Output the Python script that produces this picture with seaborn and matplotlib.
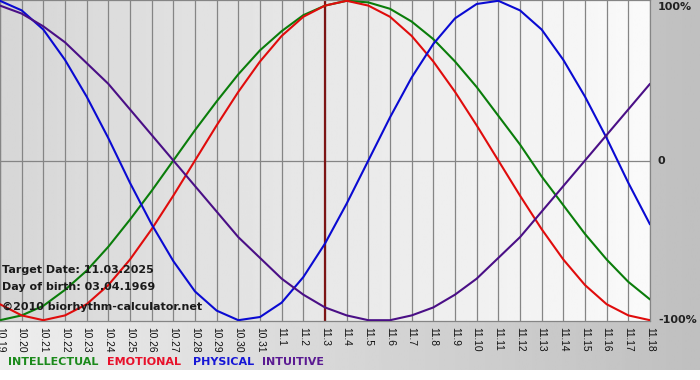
import numpy as np
import pandas as pd
import seaborn as sns
import matplotlib.pyplot as plt

# dates shown on the x axis (10.19 .. 11.18)
dates = ['10.19', '10.20', '10.21', '10.22', '10.23', '10.24', '10.25', '10.26',
         '10.27', '10.28', '10.29', '10.30', '10.31', '11.1', '11.2', '11.3',
         '11.4', '11.5', '11.6', '11.7', '11.8', '11.9', '11.10', '11.11',
         '11.12', '11.13', '11.14', '11.15', '11.16', '11.17', '11.18']

# cycle values (-1 .. 1)
intellectual = [-1.00, -0.97, -0.91, -0.81, -0.69, -0.54, -0.37, -0.19, 0.00,
                0.19, 0.37, 0.54, 0.69, 0.81, 0.91, 0.97, 1.00, 0.99, 0.95,
                0.87, 0.76, 0.62, 0.46, 0.28, 0.10, -0.10, -0.28, -0.46,
                -0.62, -0.76, -0.87]
emotional = [-0.90, -0.97, -1.00, -0.97, -0.90, -0.78, -0.62, -0.43, -0.22,
             0.00, 0.22, 0.43, 0.62, 0.78, 0.90, 0.97, 1.00, 0.97, 0.90,
             0.78, 0.62, 0.43, 0.22, 0.00, -0.22, -0.43, -0.62, -0.78,
             -0.90, -0.97, -1.00]
physical = [1.00, 0.94, 0.82, 0.63, 0.40, 0.14, -0.14, -0.40, -0.63, -0.82,
            -0.94, -1.00, -0.98, -0.89, -0.73, -0.52, -0.27, 0.00, 0.27,
            0.52, 0.73, 0.89, 0.98, 1.00, 0.94, 0.82, 0.63, 0.40, 0.14,
            -0.14, -0.40]
intuitive = [0.97, 0.92, 0.84, 0.74, 0.61, 0.48, 0.32, 0.16, 0.00, -0.16,
             -0.32, -0.48, -0.61, -0.74, -0.84, -0.92, -0.97, -1.00, -1.00,
             -0.97, -0.92, -0.84, -0.74, -0.61, -0.48, -0.32, -0.16, 0.00,
             0.16, 0.32, 0.48]

target_idx = dates.index('11.3')

names = ['INTELLECTUAL', 'EMOTIONAL', 'PHYSICAL', 'INTUITIVE']
colors = {'INTELLECTUAL': '#0a7d0a', 'EMOTIONAL': '#e00c0c',
          'PHYSICAL': '#0a0ad2', 'INTUITIVE': '#4a0f86'}
legend_colors = ['#1b8a1b', '#e8102a', '#1616d6', '#5a1a92']

df = pd.DataFrame({
    'day': list(range(len(dates))) * 4,
    'value': intellectual + emotional + physical + intuitive,
    'series': sum([[n] * len(dates) for n in names], []),
})

sns.set_style('white')
plt.rcParams['font.family'] = ['DejaVu Sans']

fig = plt.figure(figsize=(7, 3.8), dpi=100)
fig.patch.set_facecolor('white')

# grey page gradient behind everything
bg = fig.add_axes([0, 10 / 380, 1, 370 / 380], zorder=-5)
bg.imshow(np.linspace(0.93, 0.75, 256).reshape(1, -1), cmap='gray', vmin=0, vmax=1,
          aspect='auto', extent=[0, 1, 0, 1])
bg.set_axis_off()

ax = fig.add_axes([0, 59 / 380, 650 / 700, 321 / 380])
ax.patch.set_alpha(0)
ax.imshow(np.linspace(0.84, 0.98, 256).reshape(1, -1), cmap='gray', vmin=0, vmax=1,
          aspect='auto', extent=[0, len(dates) - 1, -1.005, 1.005], zorder=0)

for i in range(len(dates)):
    ax.axvline(i, color='#858585', lw=0.9, zorder=1)
ax.axhline(0, color='#858585', lw=0.9, zorder=1)
ax.axvline(target_idx, color='#7d1515', lw=1.6, zorder=2)

sns.lineplot(data=df, x='day', y='value', hue='series', hue_order=names,
             palette=colors, linewidth=1.5, legend=False, ax=ax, zorder=3)

ax.set_xlim(0, len(dates) - 1)
ax.set_ylim(-1.005, 1.005)
ax.set_xticks(range(len(dates)))
ax.set_xticklabels(dates, rotation=270, fontsize=7.4, family='Liberation Sans',
                   color='#111111')
ax.tick_params(axis='x', length=3, width=0.8, color='#858585', pad=1.5)
ax.set_yticks([])
ax.set_xlabel('')
ax.set_ylabel('')
for s in ax.spines.values():
    s.set_color('#858585')
    s.set_linewidth(0.9)

# right side scale labels
for val, txt in [(0.96, '100%'), (0.0, '0'), (-1.0, '-100%')]:
    ax.text(1.0 + 8 / 650, (val + 1.005) / 2.01, txt, transform=ax.transAxes,
            ha='left', va='center', fontsize=8, fontweight='bold', color='#222222')

# info text inside the chart
info = [(270, 'Target Date: 11.03.2025'), (287, 'Day of birth: 03.04.1969'),
        (307, '\u00a92010 biorhythm-calculator.net')]
for ypix, txt in info:
    fig.text(2 / 700, 1 - ypix / 380, txt, ha='left', va='center', fontsize=8.0,
             fontweight='bold', color='#1a1a1a')

# legend row at the bottom
xpos = [8, 107, 193, 262]
for x, n, c in zip(xpos, names, legend_colors):
    fig.text(x / 700, 1 - 362 / 380, n, ha='left', va='center', fontsize=8.0,
             fontweight='bold', color=c)

fig.savefig('out.png', dpi=100)
